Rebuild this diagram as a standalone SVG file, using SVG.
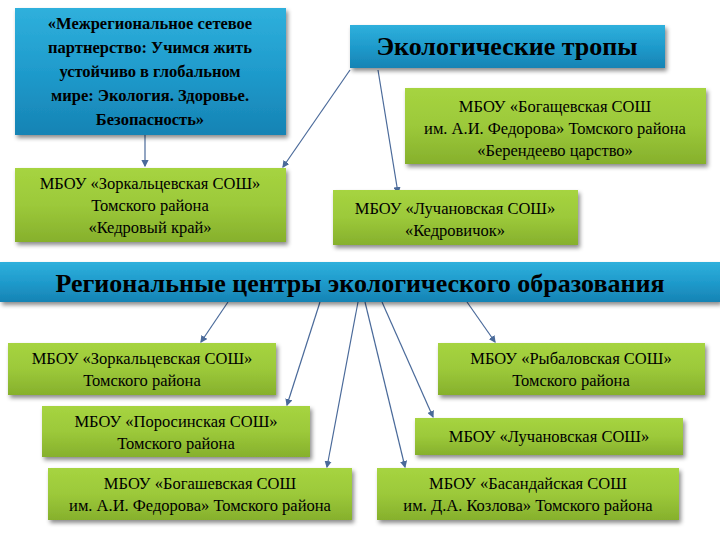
<svg xmlns="http://www.w3.org/2000/svg" width="720" height="540" viewBox="0 0 720 540" font-family="'Times New Roman', 'Liberation Serif', 'DejaVu Serif', Times, serif">
<defs>
<linearGradient id="bl" x1="0" y1="0" x2="0" y2="1"><stop offset="0" stop-color="#2fb0dc"/><stop offset="0.5" stop-color="#1f9bcc"/><stop offset="1" stop-color="#1683b4"/></linearGradient>
<linearGradient id="gr" x1="0" y1="0" x2="0" y2="1"><stop offset="0" stop-color="#a6d440"/><stop offset="0.5" stop-color="#9cc93a"/><stop offset="1" stop-color="#86b02c"/></linearGradient>
<filter id="sh" x="-5%" y="-10%" width="112%" height="130%"><feDropShadow dx="2" dy="3" stdDeviation="2" flood-color="#000" flood-opacity="0.45"/></filter>
<marker id="ar" markerWidth="6" markerHeight="6" refX="5" refY="3" orient="auto"><path d="M0,0 L6,3 L0,6 z" fill="#4a6a9a"/></marker>
</defs>
<style>
.b{fill:url(#bl);filter:url(#sh)}
.g{fill:url(#gr);filter:url(#sh)}
text{font-family:'Times New Roman','Liberation Serif','DejaVu Serif',Times,serif;text-anchor:middle;fill:#000}
.t{font-size:16.5px}
.h{font-weight:bold;font-size:16.5px}
.c line{stroke:#4a6a9a;stroke-width:1.2;marker-end:url(#ar)}
</style>
<rect width="720" height="540" fill="#fff"/>
<g class="c">
<line x1="145" y1="135" x2="145" y2="166"/>
<line x1="350" y1="70" x2="283" y2="167"/>
<line x1="378" y1="70" x2="398" y2="193"/>
<line x1="228" y1="302" x2="201" y2="342"/>
<line x1="320" y1="302" x2="287" y2="405"/>
<line x1="358" y1="302" x2="327" y2="467"/>
<line x1="365" y1="302" x2="405" y2="467"/>
<line x1="382" y1="302" x2="433" y2="417"/>
<line x1="467" y1="302" x2="495" y2="342"/>
</g>
<g id="n1"><rect class="b" x="15" y="8" width="271" height="127"/>
<text class="h" x="150" y="29">«Межрегиональное сетевое</text>
<text class="h" x="150" y="53">партнерство: Учимся жить</text>
<text class="h" x="150" y="77">устойчиво в глобальном</text>
<text class="h" x="150" y="101">мире: Экология. Здоровье.</text>
<text class="h" x="150" y="125">Безопасность»</text></g>
<g id="n2"><rect class="g" x="15" y="168" width="271" height="74"/>
<text class="t" x="150" y="189">МБОУ  «Зоркальцевская СОШ»</text>
<text class="t" x="150" y="211">Томского района</text>
<text class="t" x="150" y="233">«Кедровый край»</text></g>
<g id="n3"><rect class="b" x="350" y="25" width="315" height="43"/>
<text x="507" y="55" style="font-size:26px;font-weight:bold">Экологические тропы</text></g>
<g id="n4"><rect class="g" x="405" y="88" width="301" height="76"/>
<text class="t" x="555" y="112">МБОУ «Богащевская СОШ</text>
<text class="t" x="555" y="134">им. А.И. Федорова» Томского района</text>
<text class="t" x="555" y="156">«Берендеево царство»</text></g>
<g id="n5"><rect class="g" x="333" y="190" width="245" height="55"/>
<text class="t" x="455" y="214">МБОУ «Лучановская СОШ»</text>
<text class="t" x="455" y="236">«Кедровичок»</text></g>
<g id="n6"><rect class="b" x="0" y="262" width="720" height="40"/>
<text x="360" y="292" style="font-size:26px;font-weight:bold">Региональные центры экологического образования</text></g>
<g id="n7"><rect class="g" x="8" y="343" width="268" height="52"/>
<text class="t" x="142" y="364">МБОУ «Зоркальцевская СОШ»</text>
<text class="t" x="142" y="386">Томского района</text></g>
<g id="n8"><rect class="g" x="438" y="343" width="267" height="52"/>
<text class="t" x="571" y="364">МБОУ  «Рыбаловская СОШ»</text>
<text class="t" x="571" y="386">Томского района</text></g>
<g id="n9"><rect class="g" x="42" y="406" width="268" height="51"/>
<text class="t" x="176" y="427">МБОУ «Поросинская СОШ»</text>
<text class="t" x="176" y="449">Томского района</text></g>
<g id="n10"><rect class="g" x="415" y="418" width="268" height="37"/>
<text class="t" x="549" y="442">МБОУ «Лучановская СОШ»</text></g>
<g id="n11"><rect class="g" x="48" y="468" width="304" height="52"/>
<text class="t" x="200" y="489">МБОУ «Богашевская СОШ</text>
<text class="t" x="200" y="511">им. А.И. Федорова» Томского района</text></g>
<g id="n12"><rect class="g" x="377" y="468" width="302" height="52"/>
<text class="t" x="528" y="489">МБОУ «Басандайская СОШ</text>
<text class="t" x="528" y="511">им. Д.А. Козлова» Томского района</text></g>
</svg>
